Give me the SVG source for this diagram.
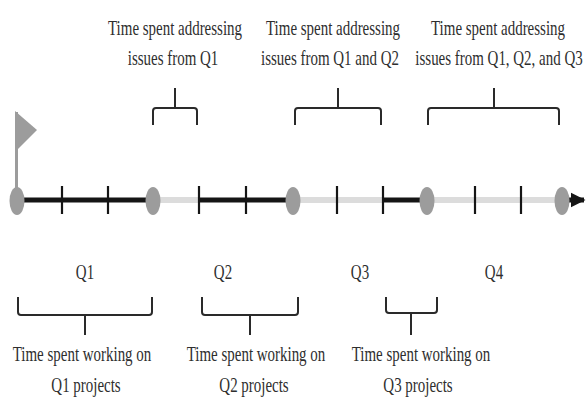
<svg xmlns="http://www.w3.org/2000/svg" width="588" height="408" viewBox="0 0 588 408">
<style>
  .t{font-family:"Liberation Serif","Times New Roman",serif;font-size:22px;fill:#2e2e2e;text-anchor:middle}
  .br{fill:none;stroke:#2a2a2a;stroke-width:2}
  .blk{stroke:#151515;stroke-width:5;fill:none}
  .lt{stroke:#dcdcdc;stroke-width:6;fill:none}
  .tk{stroke:#151515;stroke-width:2.2}
  .dot{fill:#9c9c9c}
</style>
<defs>
  <marker id="ah" viewBox="0 0 10 10" refX="9" refY="5" markerWidth="3" markerHeight="3.4" orient="auto" markerUnits="strokeWidth">
    <path d="M0,0 L10,5 L0,10 z" fill="#151515"/>
  </marker>
</defs>
<rect width="588" height="408" fill="#fff"/>

<g id="connectors">
  <line class="lt" x1="153" y1="200" x2="199" y2="200"/>
  <line class="lt" x1="293" y1="200" x2="383" y2="200"/>
  <line class="lt" x1="427" y1="200" x2="562" y2="200"/>
  <line class="blk" x1="17" y1="200" x2="153" y2="200"/>
  <line class="blk" x1="199" y1="200" x2="293" y2="200"/>
  <line class="blk" x1="383" y1="200" x2="427" y2="200"/>
  <line class="blk" x1="562" y1="200" x2="584" y2="200" marker-end="url(#ah)"/>
  <g id="ticks">
    <line class="tk" x1="62" y1="186" x2="62" y2="214"/>
    <line class="tk" x1="108" y1="186" x2="108" y2="214"/>
    <line class="tk" x1="199" y1="186" x2="199" y2="214"/>
    <line class="tk" x1="246" y1="186" x2="246" y2="214"/>
    <line class="tk" x1="337" y1="186" x2="337" y2="214"/>
    <line class="tk" x1="383" y1="186" x2="383" y2="214"/>
    <line class="tk" x1="475" y1="186" x2="475" y2="214"/>
    <line class="tk" x1="521" y1="186" x2="521" y2="214"/>
  </g>
</g>

<g id="flag">
  <line x1="16.5" y1="112" x2="16.5" y2="200" stroke="#9c9c9c" stroke-width="3"/>
  <polygon points="15,111 37,130 15,152" fill="#9c9c9c"/>
</g>

<g id="milestones">
  <ellipse class="dot" cx="17" cy="201" rx="7.5" ry="14"/>
  <ellipse class="dot" cx="153" cy="201" rx="7.5" ry="14"/>
  <ellipse class="dot" cx="293" cy="201" rx="7.5" ry="14"/>
  <ellipse class="dot" cx="427" cy="201" rx="7.5" ry="14"/>
  <ellipse class="dot" cx="562" cy="201" rx="7.5" ry="14"/>
</g>

<g id="quarters">
  <text class="t" transform="translate(85,279) scale(0.68,1)">Q1</text>
  <text class="t" transform="translate(223,279) scale(0.68,1)">Q2</text>
  <text class="t" transform="translate(360,279) scale(0.68,1)">Q3</text>
  <text class="t" transform="translate(494,279) scale(0.68,1)">Q4</text>
</g>

<g id="issues-q1">
  <text class="t" transform="translate(175,35) scale(0.68,1)">Time spent addressing</text>
  <text class="t" transform="translate(173,65) scale(0.68,1)">issues from Q1</text>
  <path class="br" d="M153,125 V111 Q153,108 156,108 H194 Q197,108 197,111 V125 M175,108 V88"/>
</g>
<g id="issues-q1-q2">
  <text class="t" transform="translate(333,35) scale(0.68,1)">Time spent addressing</text>
  <text class="t" transform="translate(330,65) scale(0.68,1)">issues from Q1 and Q2</text>
  <path class="br" d="M295,125 V111 Q295,108 298,108 H378 Q381,108 381,111 V125 M338,108 V88"/>
</g>
<g id="issues-q1-q2-q3">
  <text class="t" transform="translate(498,35) scale(0.68,1)">Time spent addressing</text>
  <text class="t" transform="translate(499,65) scale(0.68,1)">issues from Q1, Q2, and Q3</text>
  <path class="br" d="M428,125 V111 Q428,108 431,108 H556 Q559,108 559,111 V125 M494,108 V88"/>
</g>

<g id="work-q1">
  <path class="br" d="M18,297 V312 Q18,315 21,315 H149 Q152,315 152,312 V297 M85,315 V335"/>
  <text class="t" transform="translate(82,361) scale(0.68,1)">Time spent working on</text>
  <text class="t" transform="translate(86,392) scale(0.68,1)">Q1 projects</text>
</g>
<g id="work-q2">
  <path class="br" d="M202,297 V312 Q202,315 205,315 H295 Q298,315 298,312 V297 M250,315 V335"/>
  <text class="t" transform="translate(256,361) scale(0.68,1)">Time spent working on</text>
  <text class="t" transform="translate(254,392) scale(0.68,1)">Q2 projects</text>
</g>
<g id="work-q3">
  <path class="br" d="M386,297 V310 Q386,313 389,313 H434 Q437,313 437,310 V297 M411,313 V335"/>
  <text class="t" transform="translate(421,361) scale(0.68,1)">Time spent working on</text>
  <text class="t" transform="translate(418,392) scale(0.68,1)">Q3 projects</text>
</g>
</svg>
